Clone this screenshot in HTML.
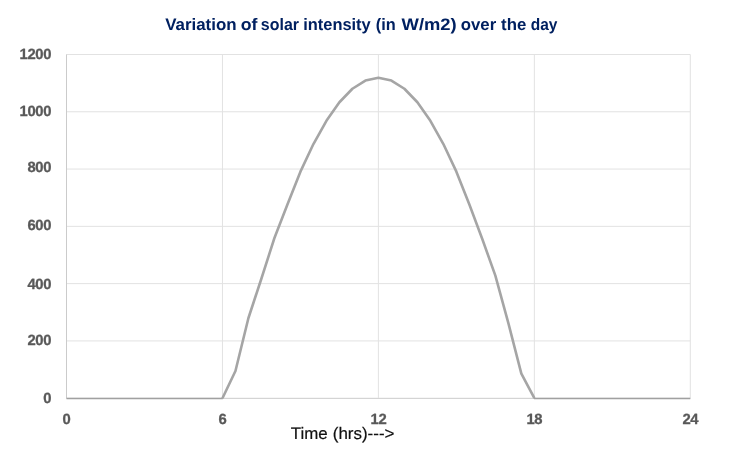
<!DOCTYPE html>
<html>
<head>
<meta charset="utf-8">
<title>Variation of solar intensity</title>
<style>
  html, body { margin: 0; padding: 0; background: #ffffff; }
  body { width: 739px; height: 463px; overflow: hidden; font-family: "Liberation Sans", sans-serif; }
  svg { display: block; will-change: transform; }
  svg text { font-family: "Liberation Sans", sans-serif; text-rendering: geometricPrecision; }
  .grid line { stroke: #e2e2e2; stroke-width: 1; shape-rendering: auto; }
  .axis { font-size: 14.8px; letter-spacing: -0.3px; stroke: #595959; stroke-width: 0.3px; font-weight: bold; fill: #595959; }
  .title { font-size: 16.6px; font-weight: bold; fill: #002060; }
  .xtitle { font-size: 16.6px; fill: #111111; stroke: #111111; stroke-width: 0.2px; }
</style>
</head>
<body>
<svg width="739" height="463" viewBox="0 0 739 463">
  <rect x="0" y="0" width="739" height="463" fill="#ffffff"/>
  <g class="grid">
    <line x1="66.50" y1="398.20" x2="690.30" y2="398.20"/><line x1="66.50" y1="340.92" x2="690.30" y2="340.92"/><line x1="66.50" y1="283.63" x2="690.30" y2="283.63"/><line x1="66.50" y1="226.35" x2="690.30" y2="226.35"/><line x1="66.50" y1="169.07" x2="690.30" y2="169.07"/><line x1="66.50" y1="111.78" x2="690.30" y2="111.78"/><line x1="66.50" y1="54.50" x2="690.30" y2="54.50"/><line x1="66.50" y1="54.50" x2="66.50" y2="398.20"/><line x1="222.45" y1="54.50" x2="222.45" y2="398.20"/><line x1="378.40" y1="54.50" x2="378.40" y2="398.20"/><line x1="534.35" y1="54.50" x2="534.35" y2="398.20"/><line x1="690.30" y1="54.50" x2="690.30" y2="398.20"/>
  </g>
  <line x1="66.5" y1="54.5" x2="66.5" y2="398.2" stroke="#cbcbcb" stroke-width="1"/>
  <line x1="66.5" y1="398.5" x2="690.3" y2="398.5" stroke="#d4d4d4" stroke-width="1"/>
  <polyline fill="none" stroke="#a5a5a5" stroke-width="2.6" stroke-linejoin="round" stroke-linecap="butt" points="222.45,398.20 235.45,370.99 248.44,318.00 261.44,278.48 274.43,238.02 287.43,204.58 300.42,171.67 313.42,144.04 326.42,120.76 339.41,102.23 352.41,88.76 365.40,80.58 378.40,77.84 391.40,80.58 404.39,88.76 417.39,102.23 430.38,120.76 443.38,144.04 456.38,171.67 469.37,204.58 482.37,239.24 495.36,275.61 508.36,323.16 521.35,373.57 534.35,398.20"/>
  <g stroke="#a0a0a0" stroke-width="1.5"><line x1="66.50" y1="398.45" x2="222.85" y2="398.45"/><line x1="533.95" y1="398.45" x2="690.30" y2="398.45"/></g>
  <g class="axis">
    <text transform="translate(51.2,402.70) scale(1.000,1)" text-anchor="end">0</text><text transform="translate(51.2,345.25) scale(1.000,1)" text-anchor="end">200</text><text transform="translate(51.2,288.60) scale(1.000,1)" text-anchor="end">400</text><text transform="translate(51.2,230.00) scale(1.000,1)" text-anchor="end">600</text><text transform="translate(51.2,172.40) scale(1.000,1)" text-anchor="end">800</text><text transform="translate(51.2,115.70) scale(1.000,1)" text-anchor="end">1000</text><text transform="translate(51.2,58.50) scale(1.000,1)" text-anchor="end">1200</text>
    <text transform="translate(66.50,424.1) scale(1.000,1)" text-anchor="middle">0</text><text transform="translate(222.45,424.1) scale(1.000,1)" text-anchor="middle">6</text><text transform="translate(378.40,424.1) scale(1.000,1)" text-anchor="middle">12</text><text transform="translate(534.35,424.1) scale(1.000,1)" text-anchor="middle">18</text><text transform="translate(690.30,424.1) scale(1.000,1)" text-anchor="middle">24</text>
  </g>
  <text class="title" transform="translate(165.17,30.45) scale(1.0188,1)">Variation</text>
  <text class="title" transform="translate(240.63,30.45) scale(1.0667,1)">of</text>
  <text class="title" transform="translate(260.85,30.45) scale(0.9613,1)">solar</text>
  <text class="title" transform="translate(303.19,30.45) scale(0.9896,1)">intensity</text>
  <text class="title" transform="translate(375.84,30.45) scale(0.9823,1)">(in</text>
  <text class="title" transform="translate(401.55,30.45) scale(1.1071,1)">W/m2)</text>
  <text class="title" transform="translate(460.77,30.45) scale(1.0110,1)">over</text>
  <text class="title" transform="translate(501.05,30.45) scale(1.0114,1)">the</text>
  <text class="title" transform="translate(530.72,30.45) scale(0.9327,1)">day</text>
  <text class="xtitle" transform="translate(290.72,439.00) scale(1.0164,1)">Time</text>
  <text class="xtitle" transform="translate(332.73,439.00) scale(1.0226,1)">(hrs)---&gt;</text>
</svg>
</body>
</html>
